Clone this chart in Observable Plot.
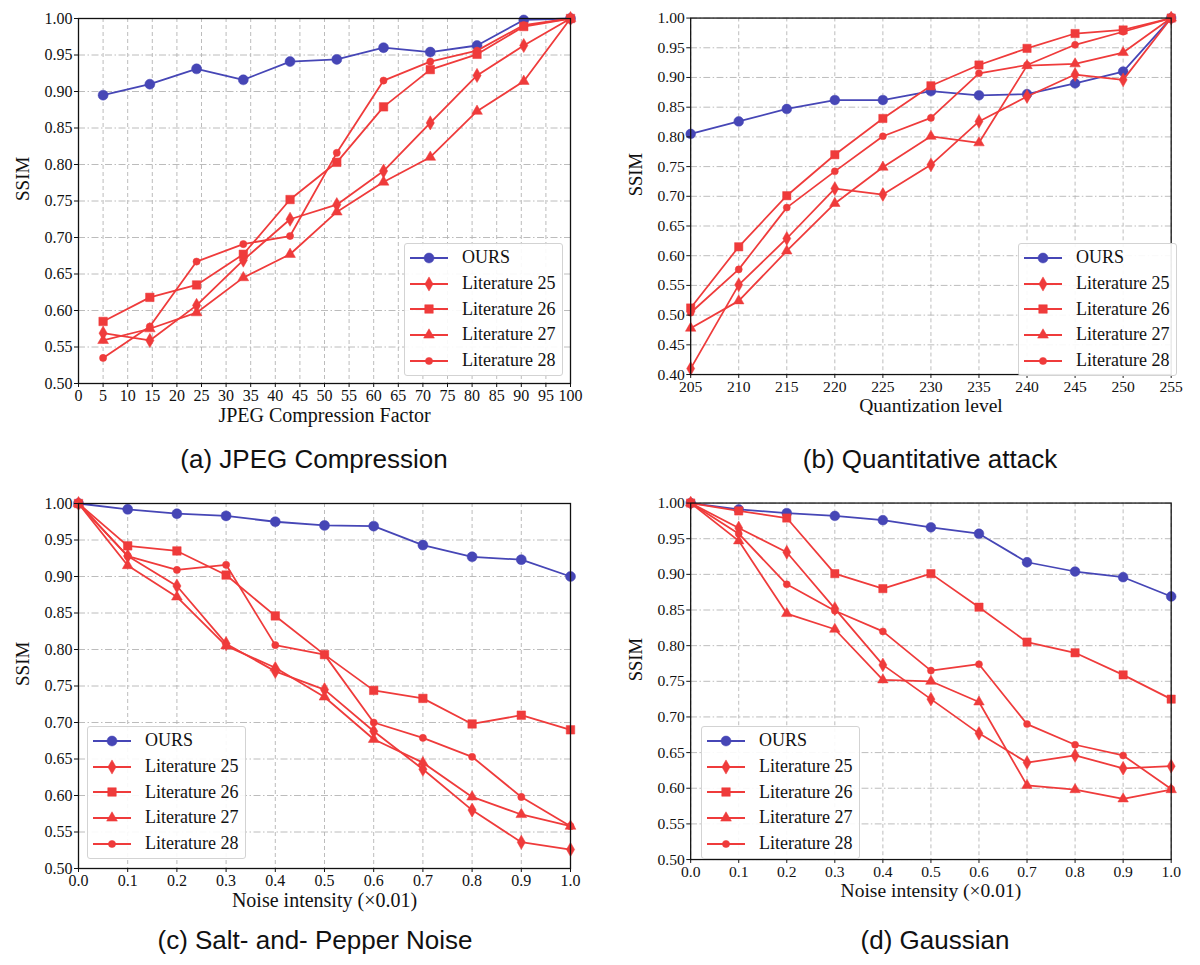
<!DOCTYPE html>
<html><head><meta charset="utf-8">
<script src="https://cdn.jsdelivr.net/npm/d3@7"></script>
<script src="https://cdn.jsdelivr.net/npm/@observablehq/plot@0.6"></script>
<style>
body{margin:0;background:#fff;}
#fig{position:relative;width:1200px;height:965px;overflow:hidden;background:#fff;}
.panel{position:absolute;}
.caption{position:absolute;font-family:"Liberation Sans",Arial,sans-serif;font-size:26px;color:#111;white-space:nowrap;transform:translate(-50%,-50%);line-height:1;}
.legend{position:absolute;box-sizing:border-box;border:1px solid #d3d3d3;border-radius:3px;background:rgba(255,255,255,0.9);font-family:"Liberation Serif","Times New Roman",serif;font-size:18px;color:#111;padding-top:1px;}
.legend .row{display:flex;align-items:center;height:25.7px;}
.legend .row svg{flex:none;}
</style></head><body><div id="fig"></div>
<script>
// ---------- data ----------
const seriesNames = ["OURS", "Literature 25", "Literature 26", "Literature 27", "Literature 28"];

// (a) JPEG compression
const jpegX = [5, 14.5, 24, 33.5, 43, 52.5, 62, 71.5, 81, 90.5, 100];
const jpegOurs  = [0.895, 0.910, 0.931, 0.916, 0.941, 0.944, 0.960, 0.954, 0.963, 0.998, 1.000];
const jpegLit25 = [0.569, 0.559, 0.607, 0.669, 0.725, 0.745, 0.791, 0.857, 0.922, 0.963, 1.000];
const jpegLit26 = [0.585, 0.618, 0.635, 0.677, 0.752, 0.803, 0.879, 0.930, 0.951, 0.989, 1.000];
const jpegLit27 = [0.559, 0.575, 0.597, 0.645, 0.677, 0.735, 0.776, 0.810, 0.873, 0.914, 1.000];
const jpegLit28 = [0.535, 0.578, 0.667, 0.691, 0.702, 0.816, 0.915, 0.941, 0.956, 0.991, 1.000];
const jpegXTicks = [0, 5, 10, 15, 20, 25, 30, 35, 40, 45, 50, 55, 60, 65, 70, 75, 80, 85, 90, 95, 100];

// (b) Quantization
const quantX = [205, 210, 215, 220, 225, 230, 235, 240, 245, 250, 255];
const quantOurs  = [0.805, 0.826, 0.847, 0.862, 0.862, 0.877, 0.870, 0.872, 0.890, 0.910, 1.000];
const quantLit25 = [0.410, 0.551, 0.629, 0.713, 0.703, 0.753, 0.826, 0.868, 0.905, 0.896, 1.000];
const quantLit26 = [0.512, 0.615, 0.701, 0.770, 0.831, 0.886, 0.921, 0.949, 0.974, 0.980, 1.000];
const quantLit27 = [0.478, 0.524, 0.608, 0.688, 0.749, 0.801, 0.790, 0.920, 0.923, 0.942, 1.000];
const quantLit28 = [0.504, 0.577, 0.681, 0.742, 0.801, 0.832, 0.907, 0.921, 0.955, 0.977, 1.000];
const quantXTicks = [205, 210, 215, 220, 225, 230, 235, 240, 245, 250, 255];

// (c) Salt-and-pepper, (d) Gaussian
const noiseX = [0.0, 0.1, 0.2, 0.3, 0.4, 0.5, 0.6, 0.7, 0.8, 0.9, 1.0];
const spOurs  = [1.000, 0.992, 0.986, 0.983, 0.975, 0.970, 0.969, 0.943, 0.927, 0.923, 0.900];
const spLit25 = [1.000, 0.928, 0.887, 0.808, 0.770, 0.745, 0.688, 0.636, 0.580, 0.536, 0.526];
const spLit26 = [1.000, 0.942, 0.935, 0.902, 0.846, 0.793, 0.744, 0.733, 0.698, 0.710, 0.690];
const spLit27 = [1.000, 0.915, 0.872, 0.805, 0.775, 0.735, 0.677, 0.645, 0.598, 0.574, 0.558];
const spLit28 = [1.000, 0.928, 0.909, 0.916, 0.806, 0.793, 0.700, 0.679, 0.653, 0.598, 0.558];

const gaOurs  = [1.000, 0.991, 0.986, 0.982, 0.976, 0.966, 0.957, 0.917, 0.904, 0.896, 0.869];
const gaLit25 = [1.000, 0.965, 0.931, 0.852, 0.773, 0.725, 0.677, 0.636, 0.646, 0.628, 0.631];
const gaLit26 = [1.000, 0.989, 0.979, 0.901, 0.880, 0.901, 0.854, 0.805, 0.790, 0.759, 0.725];
const gaLit27 = [1.000, 0.947, 0.845, 0.823, 0.752, 0.750, 0.721, 0.604, 0.598, 0.585, 0.598];
const gaLit28 = [1.000, 0.957, 0.886, 0.849, 0.820, 0.765, 0.774, 0.690, 0.661, 0.646, 0.599];
const noiseXTicks = [0.0, 0.1, 0.2, 0.3, 0.4, 0.5, 0.6, 0.7, 0.8, 0.9, 1.0];

const ssimTicks = [0.50, 0.55, 0.60, 0.65, 0.70, 0.75, 0.80, 0.85, 0.90, 0.95, 1.00];
const ssimTicksQuant = [0.40, 0.45, 0.50, 0.55, 0.60, 0.65, 0.70, 0.75, 0.80, 0.85, 0.90, 0.95, 1.00];

// ---------- styles ----------
const BLUE = "#4646b6", RED = "#ef3b3b";
const styleFor = [
  {color: BLUE, symbol: "circle",   r: 5.0},
  {color: RED,  symbol: "diamond",  r: 4.3},
  {color: RED,  symbol: "square",   r: 4.8},
  {color: RED,  symbol: "triangle", r: 4.0},
  {color: RED,  symbol: "circle",   r: 3.6}
];

function rowsOf(xs, ys, name) { return xs.map((x, i) => ({x, y: ys[i], series: name})); }

const panels = [
  {left: 0, top: 0, xs: jpegX, ys: [jpegOurs, jpegLit25, jpegLit26, jpegLit27, jpegLit28],
   xDomain: [0, 100], yDomain: [0.5, 1.0], xTicks: jpegXTicks, yTicks: ssimTicks, xFmt: d3.format("d"),
   xLabel: "JPEG Compression Factor", caption: "(a) JPEG Compression", capX: 314, capY: 459, legend: "br"},
  {left: 614, top: 0, xs: quantX, ys: [quantOurs, quantLit25, quantLit26, quantLit27, quantLit28],
   xDomain: [205, 255], yDomain: [0.4, 1.0], xTicks: quantXTicks, yTicks: ssimTicksQuant, xFmt: d3.format("d"),
   xLabel: "Quantization level", caption: "(b) Quantitative attack", capX: 930, capY: 459, legend: "br"},
  {left: 0, top: 485, xs: noiseX, ys: [spOurs, spLit25, spLit26, spLit27, spLit28],
   xDomain: [0, 1], yDomain: [0.5, 1.0], xTicks: noiseXTicks, yTicks: ssimTicks, xFmt: d3.format(".1f"),
   xLabel: "Noise intensity (\u00d70.01)", caption: "(c) Salt- and- Pepper Noise", capX: 315, capY: 940, legend: "bl"},
  {left: 614, top: 485, xs: noiseX, ys: [gaOurs, gaLit25, gaLit26, gaLit27, gaLit28],
   xDomain: [0, 1], yDomain: [0.5, 1.0], xTicks: noiseXTicks, yTicks: ssimTicks, xFmt: d3.format(".1f"),
   xLabel: "Noise intensity (\u00d70.01)", caption: "(d) Gaussian", capX: 935, capY: 940, legend: "bl"}
];

const W = 600, H = 430, ML = 78, MR = 30, MT = 18, MB = 47;
const fig = document.getElementById("fig");
const gridStroke = "#b4b4b4";

for (const p of panels) {
  const seriesMarks = [];
  p.ys.forEach((ys, k) => {
    const data = rowsOf(p.xs, ys, seriesNames[k]);
    const st = styleFor[k];
    seriesMarks.push(Plot.line(data, {x: "x", y: "y", stroke: st.color, strokeWidth: 1.8}));
    seriesMarks.push(Plot.dot(data, {x: "x", y: "y", symbol: st.symbol, fill: st.color, stroke: st.color, strokeWidth: 0.5, r: st.r}));
  });
  const chart = Plot.plot({
    width: W, height: H, marginLeft: ML, marginRight: MR, marginTop: MT, marginBottom: MB,
    x: {domain: p.xDomain},
    y: {domain: p.yDomain},
    style: {fontFamily: "'Liberation Serif','Times New Roman',serif", fontSize: "16px", color: "#111", background: "transparent", overflow: "visible"},
    marks: [
      Plot.gridX(p.xTicks, {stroke: gridStroke, strokeOpacity: 1, strokeWidth: 0.9, strokeDasharray: "4,3"}),
      Plot.gridY(p.yTicks, {stroke: gridStroke, strokeOpacity: 1, strokeWidth: 0.9, strokeDasharray: "7,2.5,1.5,2.5"}),
      ...seriesMarks,
      Plot.frame({stroke: "#111", strokeWidth: 1.3}),
      Plot.axisX(p.xTicks, {tickFormat: p.xFmt, tickSize: 4, tickPadding: 2, label: null, fontSize: 16}),
      Plot.axisY(p.yTicks, {tickFormat: d3.format(".2f"), tickSize: 4, tickPadding: 2, label: null, fontSize: 16}),
      Plot.text([p.xLabel], {frameAnchor: "bottom", dy: 38, fontSize: 20}),
      Plot.text(["SSIM"], {frameAnchor: "left", rotate: -90, dx: -56, fontSize: 19})
    ]
  });
  const wrap = document.createElement("div");
  wrap.className = "panel";
  wrap.style.left = p.left + "px";
  wrap.style.top = p.top + "px";
  wrap.appendChild(chart);
  fig.appendChild(wrap);

  // caption
  const cap = document.createElement("div");
  cap.className = "caption";
  cap.textContent = p.caption;
  cap.style.left = p.capX + "px";
  cap.style.top = p.capY + "px";
  fig.appendChild(cap);

  // legend
  const lg = document.createElement("div");
  lg.className = "legend";
  const lw = 159, lh = 133;
  const frameL = p.left + ML, frameR = p.left + W - MR, frameB = p.top + H - MB;
  lg.style.width = lw + "px";
  lg.style.height = lh + "px";
  if (p.legend === "br") {
    lg.style.left = (frameR - 7 - lw) + "px";
    lg.style.top = (frameB - 7 - lh) + "px";
  } else {
    lg.style.left = (frameL + 9) + "px";
    lg.style.top = (frameB - 9 - lh) + "px";
  }
  seriesNames.forEach((name, k) => {
    const st = styleFor[k];
    const row = document.createElement("div");
    row.className = "row";
    const ns = "http://www.w3.org/2000/svg";
    const s = document.createElementNS(ns, "svg");
    s.setAttribute("width", 57); s.setAttribute("height", 16);
    const ln = document.createElementNS(ns, "line");
    ln.setAttribute("x1", 5); ln.setAttribute("x2", 43); ln.setAttribute("y1", 8); ln.setAttribute("y2", 8);
    ln.setAttribute("stroke", st.color); ln.setAttribute("stroke-width", 1.8);
    s.appendChild(ln);
    const typ = {circle: d3.symbolCircle, diamond: d3.symbolDiamond, square: d3.symbolSquare, triangle: d3.symbolTriangle}[st.symbol];
    const path = document.createElementNS(ns, "path");
    path.setAttribute("d", d3.symbol(typ, Math.PI * st.r * st.r)());
    path.setAttribute("transform", "translate(24,8)");
    path.setAttribute("fill", st.color);
    path.setAttribute("stroke", st.color);
    path.setAttribute("stroke-width", 0.5);
    s.appendChild(path);
    row.appendChild(s);
    const t = document.createElement("span");
    t.textContent = name;
    row.appendChild(t);
    lg.appendChild(row);
  });
  fig.appendChild(lg);
}
</script></body></html>
